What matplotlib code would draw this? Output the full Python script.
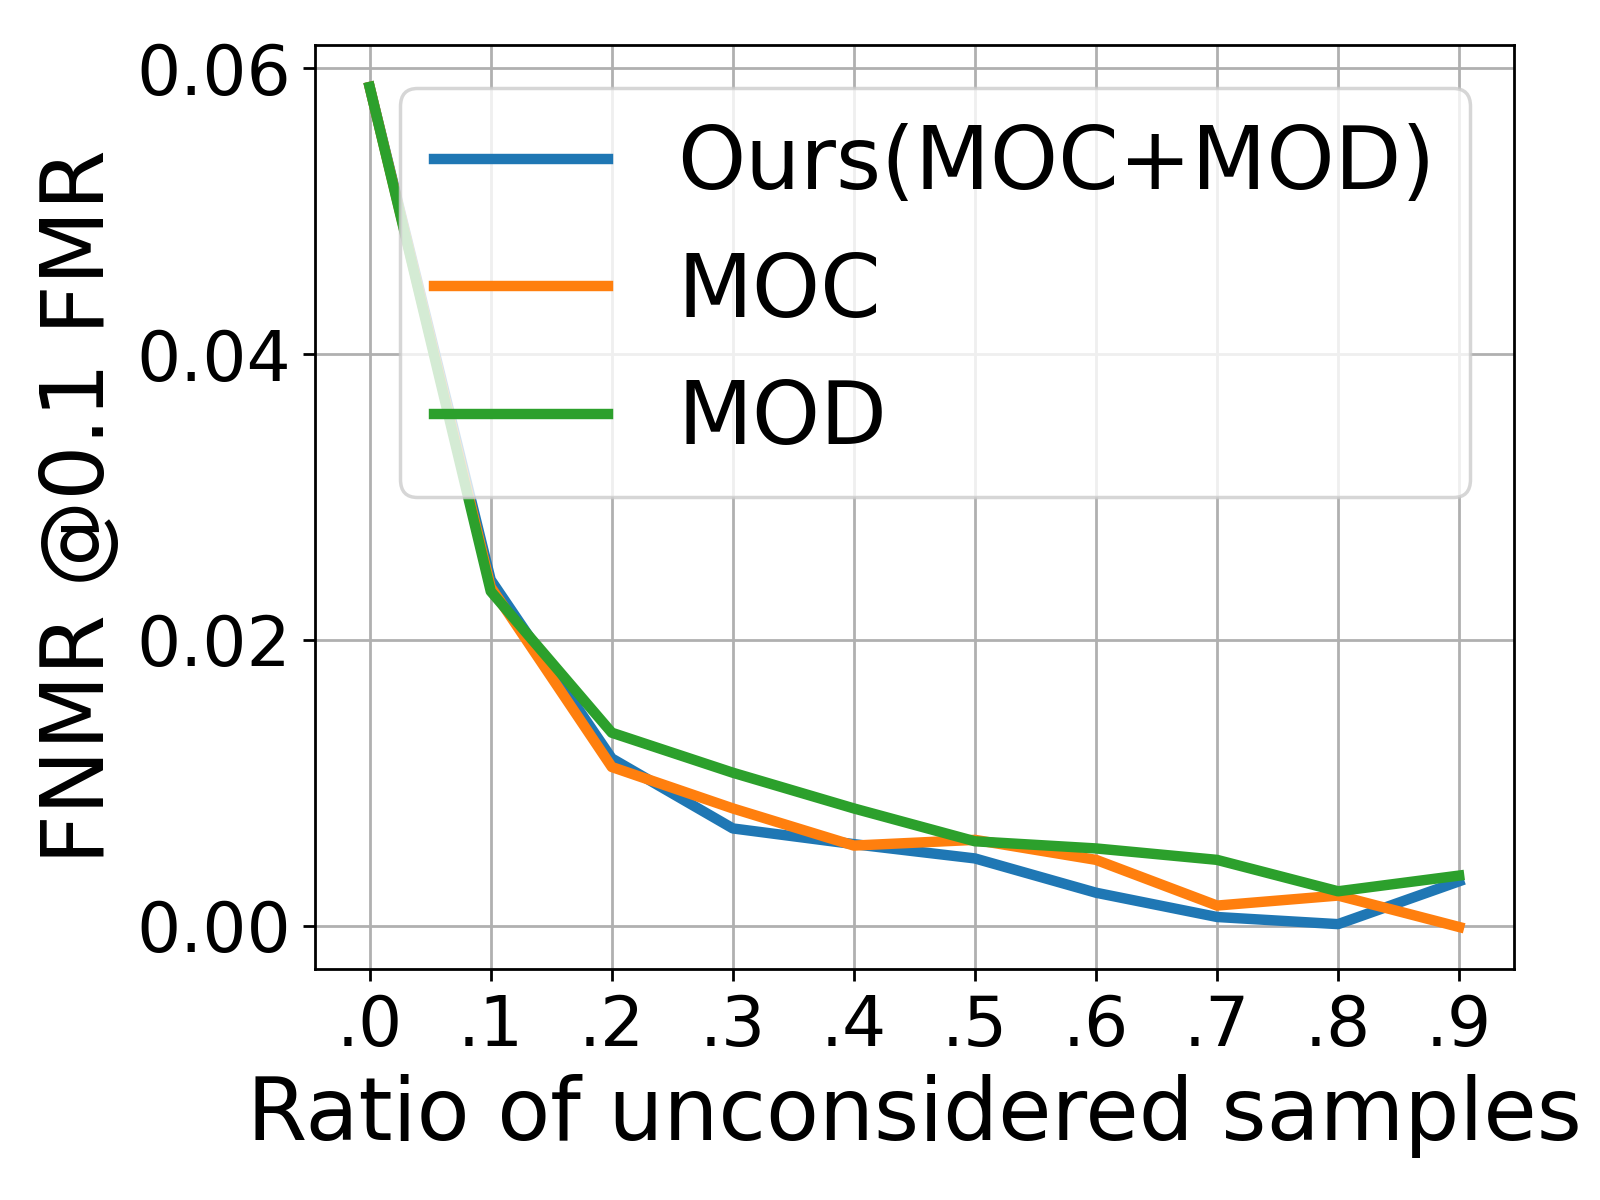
import numpy as np
import matplotlib
matplotlib.use('Agg')
import matplotlib.pyplot as plt

ratios = [0.0, 0.1, 0.2, 0.3, 0.4, 0.5, 0.6, 0.7, 0.8, 0.9]
tick_labels = ['.0', '.1', '.2', '.3', '.4', '.5', '.6', '.7', '.8', '.9']

ours = [0.0587, 0.0242, 0.0117, 0.0068, 0.0057, 0.0047, 0.0023, 0.0006, 0.0001, 0.0031]
moc = [0.0587, 0.0237, 0.0111, 0.0082, 0.0056, 0.0060, 0.0046, 0.0014, 0.0021, -0.0001]
mod = [0.0587, 0.0234, 0.0135, 0.0107, 0.0082, 0.0059, 0.0054, 0.0046, 0.0024, 0.0035]

fig = plt.figure(figsize=(6.4, 4.8), dpi=250)
ax = fig.add_axes([0.197, 0.1925, 0.749, 0.77])

ax.plot(ratios, ours, lw=3, label='Ours(MOC+MOD)')
ax.plot(ratios, moc, lw=3, label='MOC')
ax.plot(ratios, mod, lw=3, label='MOD')

ax.set_xticks(ratios)
ax.set_xticklabels(tick_labels)
ax.set_yticks([0.0, 0.02, 0.04, 0.06])
ax.tick_params(labelsize=20)
ax.grid(True)
ax.set_xlabel('Ratio of unconsidered samples', fontsize=25)
ax.set_ylabel('FNMR @0.1 FMR', fontsize=25)
ax.legend(fontsize=25, loc='upper right')

fig.savefig('out.png', dpi=250)
